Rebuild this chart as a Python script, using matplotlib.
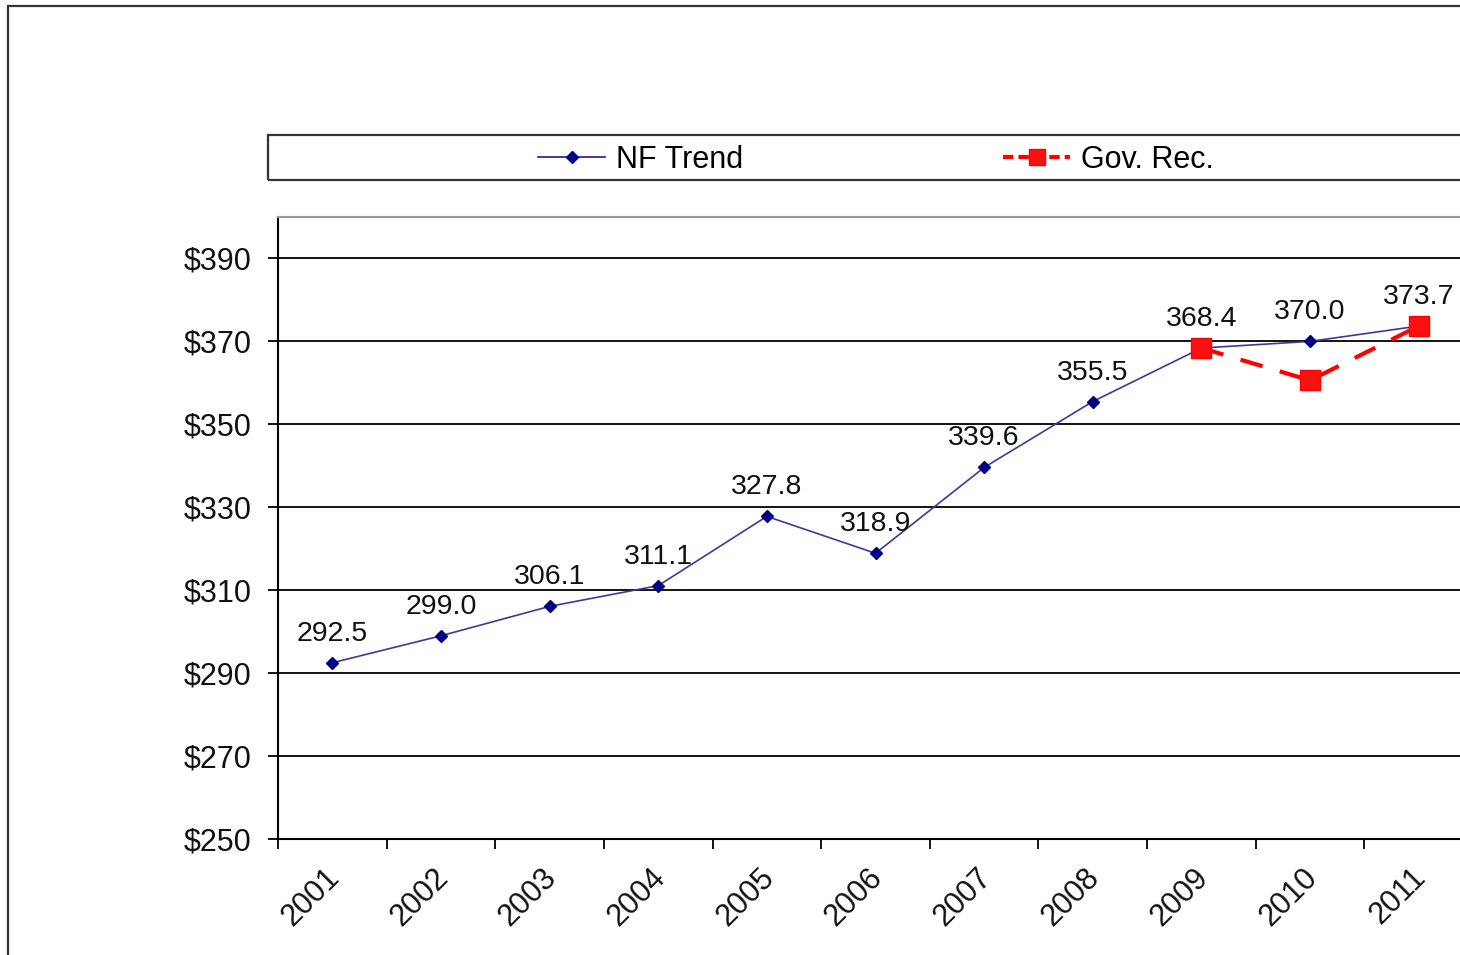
import matplotlib.pyplot as plt
from matplotlib.patches import Rectangle
from matplotlib.lines import Line2D
from matplotlib.transforms import ScaledTranslation

plt.rcParams['font.family'] = ['Liberation Sans', 'DejaVu Sans']

years = ['2001', '2002', '2003', '2004', '2005', '2006',
         '2007', '2008', '2009', '2010', '2011']
nf_trend = [292.5, 299.0, 306.1, 311.1, 327.8, 318.9,
            339.6, 355.5, 368.4, 370.0, 373.7]
gov_years = ['2009', '2010', '2011']
gov_rec = [368.4, 360.6, 373.7]
y_ticks = [250, 270, 290, 310, 330, 350, 370, 390]

W, H = 1460, 955
fig = plt.figure(figsize=(W / 100, H / 100), dpi=100)

# outer chart border (runs off the right / bottom of the picture)
fig.patches.append(Rectangle((8 / W, -0.1), 1.2, 1 - 6 / H + 0.1,
                             transform=fig.transFigure, fill=False,
                             edgecolor='#333333', linewidth=1.6))

ax = fig.add_axes([278 / W, 1 - 839 / H, (1473 - 278) / W, (839 - 217) / H])

x = list(range(len(years)))
gx = [years.index(y) for y in gov_years]
gov_dash = (0, (5.5, 4.3))

ax.plot(x, nf_trend, color='#3a3a9e', linewidth=1.2, marker='D',
        markersize=6, markerfacecolor='#000080', markeredgecolor='#000080',
        zorder=3, clip_on=False)
ax.plot(gx, gov_rec, color='#ff0000', linewidth=3, linestyle=gov_dash,
        marker='s', markersize=14, markerfacecolor='#ff1010',
        markeredgecolor='#ff0000', zorder=4, clip_on=False)

for xi, v in zip(x, nf_trend):
    ax.annotate('%.1f' % v, (xi, v), xytext=(0, 29),
                textcoords='offset pixels', ha='center', va='center',
                fontsize=20.5, color='#111111', zorder=5)

ax.set_xlim(-0.5, len(years) - 0.5)
ax.set_ylim(250, 400)

ax.set_yticks(y_ticks)
ax.set_yticklabels(['$%d' % v for v in y_ticks])
ax.yaxis.grid(True, color='black', linewidth=1.3)
ax.set_axisbelow(True)
ax.tick_params(axis='y', length=7, width=1.3, pad=12, labelsize=22,
               labelcolor='#111111')

ax.set_xticks([i - 0.5 for i in range(len(years) + 1)])
ax.set_xticklabels([])
ax.set_xticks(x, minor=True)
ax.set_xticklabels(years, minor=True, rotation=45, ha='right',
                   rotation_mode='anchor', fontsize=22, color='#111111')
ax.tick_params(axis='x', which='major', length=7, width=1.3)
ax.tick_params(axis='x', which='minor', length=0, pad=17)
# nudge the slanted year labels a little to the left
shift = ScaledTranslation(-0.08, 0, fig.dpi_scale_trans)
for lbl in ax.get_xticklabels(minor=True):
    lbl.set_transform(lbl.get_transform() + shift)

ax.spines['top'].set_color('#999999')
ax.spines['top'].set_linewidth(1.5)
ax.spines['right'].set_visible(False)
ax.spines['left'].set_linewidth(1.5)
ax.spines['bottom'].set_linewidth(1.5)

# legend box across the top
fig.patches.append(Rectangle((268 / W, 1 - 180 / H), 1.0, 45 / H,
                             transform=fig.transFigure, fill=False,
                             edgecolor='#333333', linewidth=1.6))
handles = [
    Line2D([], [], color='#1a1a8c', linewidth=1.2, marker='D', markersize=6,
           markerfacecolor='#000080', markeredgecolor='#000080'),
    Line2D([], [], color='#ff0000', linewidth=3, linestyle=(0, (2.5, 1.2)),
           marker='s', markersize=12, markerfacecolor='#ff1010',
           markeredgecolor='#ff0000'),
]
fig.legend(handles, ['NF Trend', 'Gov. Rec.'], loc='center',
           bbox_to_anchor=(876 / W, 1 - 160 / H), ncol=2, frameon=False,
           fontsize=22, handlelength=2.2, handletextpad=0.35,
           columnspacing=8.5)

fig.savefig('out.png', dpi=100)
